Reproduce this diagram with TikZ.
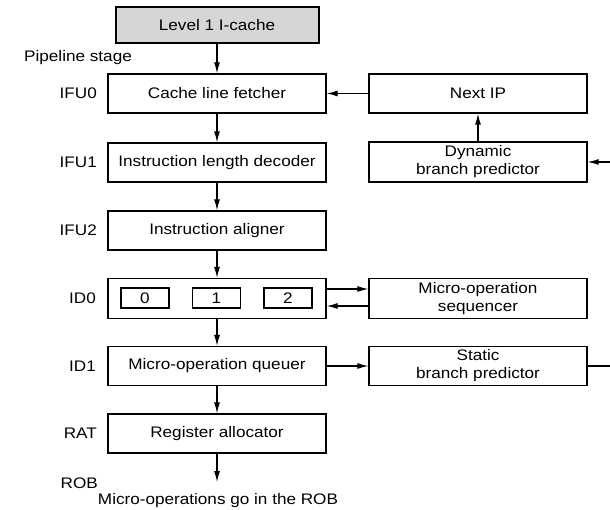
\documentclass[tikz,border=0pt]{standalone}
\usepackage{fontspec}
\setmainfont{Liberation Sans}[FakeStretch=1.12]
\usetikzlibrary{arrows.meta}
\begin{document}
\begin{tikzpicture}[x=1pt,y=-1pt,
  font=\fontsize{15.3}{18}\selectfont,
  stage/.style={draw, line width=1.2pt, minimum width=218pt, minimum height=39pt,
                inner sep=0pt, align=center},
  slot/.style={draw, line width=1.2pt, minimum width=48pt, minimum height=20pt, inner sep=0pt},
  tag/.style={anchor=east, inner sep=0pt},
  flow/.style={-{Latex[length=11pt,width=6pt]}, line width=1.2pt}]
  \useasboundingbox (0,0) rectangle (610,510);

  % main pipeline column
  \node[stage, fill=black!16, line width=2pt, minimum width=203pt, minimum height=36pt]
        (l1) at (217,25) {Level 1 I-cache};
  \node[stage] (clf) at (217,93.5) {Cache line fetcher};
  \node[stage] (ild) at (217,162.5) {Instruction length decoder};
  \node[stage] (ia)  at (217,230.5) {Instruction aligner};
  \node[stage, minimum height=40pt] (id0) at (217,298.5) {};
  \node[slot] (s0) at (145,298) {0};
  \node[slot] (s1) at (216.5,298) {1};
  \node[slot] (s2) at (288,298) {2};
  \node[stage] (moq) at (217,366) {Micro-operation queuer};
  \node[stage] (ra)  at (217,433.5) {Register allocator};
  \coordinate (rob) at (217,482);

  % side units
  \node[stage] (nip) at (478,93.5) {Next IP};
  \node[stage, minimum height=40pt] (dbp) at (478,162) {Dynamic\\branch predictor};
  \node[stage, minimum height=40pt] (mos) at (478,298.5) {Micro-operation\\sequencer};
  \node[stage] (sbp) at (478,366) {Static\\branch predictor};
  \coordinate (dbpin) at (610,162);
  \coordinate (sbpout) at (610,366);

  % stage labels
  \node[anchor=west, inner sep=0pt] (pipe) at (24,58) {Pipeline stage};
  \node[tag] (t0) at (97,93.5) {IFU0};
  \node[tag] (t1) at (97,162.5) {IFU1};
  \node[tag] (t2) at (97,230.5) {IFU2};
  \node[tag] (t3) at (96,298.5) {ID0};
  \node[tag] (t4) at (96,366) {ID1};
  \node[tag] (t5) at (97,433.5) {RAT};
  \node[tag] (t6) at (98,483) {ROB};
  \node[inner sep=0pt] (note) at (218,501) {Micro-operations go in the ROB};

  % connectors
  \draw[flow] (l1) -- (clf);
  \draw[flow] (clf) -- (ild);
  \draw[flow] (ild) -- (ia);
  \draw[flow] (ia) -- (id0);
  \draw[flow] (id0) -- (moq);
  \draw[flow] (moq) -- (ra);
  \draw[flow] (ra) -- (rob);
  \draw[flow] (nip) -- (clf);
  \draw[flow] (dbp) -- (nip);
  \draw[flow] (dbpin) -- (dbp);
  \draw[flow] ([yshift=9.5pt]id0.east) -- ([yshift=9.5pt]mos.west);
  \draw[flow] ([yshift=-7.5pt]mos.west) -- ([yshift=-7.5pt]id0.east);
  \draw[flow] (moq) -- (sbp);
  \draw[line width=1.2pt] (sbp) -- (sbpout);
\end{tikzpicture}
\end{document}
